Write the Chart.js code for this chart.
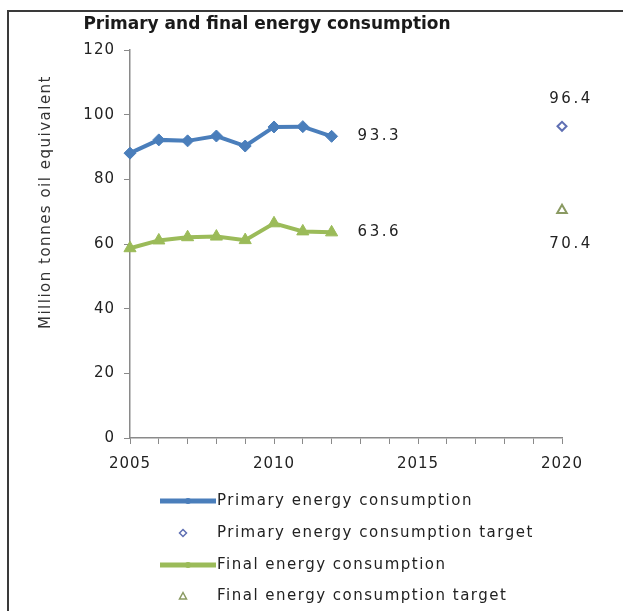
<!DOCTYPE html>
<html>
<head>
<meta charset="utf-8">
<script src="https://cdn.jsdelivr.net/npm/chart.js@4/dist/chart.umd.min.js"></script>
<style>
html,body{margin:0;padding:0;background:#fff;overflow:hidden;}
#wrap{position:relative;width:623px;height:611px;}
canvas{display:block;}
</style>
</head>
<body>
<div id="wrap"><canvas id="c" width="623" height="611"></canvas></div>
<script>
const years = [2005, 2006, 2007, 2008, 2009, 2010, 2011, 2012];
const primaryValues = [88.1, 92.2, 91.9, 93.4, 90.3, 96.2, 96.3, 93.3];
const finalValues = [58.7, 61.1, 62.1, 62.3, 61.2, 66.4, 63.9, 63.6];
const targetYear = 2020;
const primaryTarget = 96.4;
const finalTarget = 70.4;
const yTicks = [0, 20, 40, 60, 80, 100, 120];
const xLabels = [2005, 2010, 2015, 2020];
const titleText = 'Primary and final energy consumption';
const yTitle = 'Million tonnes oil equivalent';
const seriesNames = ['Primary energy consumption', 'Primary energy consumption target', 'Final energy consumption', 'Final energy consumption target'];

const BLUE = '#4A7EBB', GREEN = '#9BBB59', TBLUE = '#5F6FB3', TGREEN = '#8A9A62';
const FONT = '"DejaVu Sans", Verdana, sans-serif';

const decor = {
  id: 'decor',
  beforeDraw(chart) {
    const ctx = chart.ctx;
    ctx.save();
    ctx.fillStyle = '#3a3a3a';
    ctx.fillRect(7, 10, 2, 601);
    ctx.fillRect(7, 10, 616, 2);
    ctx.restore();
    ctx.letterSpacing = '1px';
  },
  afterDraw(chart) {
    const ctx = chart.ctx;
    const xs = chart.scales.x, ys = chart.scales.y;
    ctx.save();
    ctx.letterSpacing = '0px';
    // title
    ctx.fillStyle = '#1a1a1a';
    ctx.font = 'bold 17px ' + FONT;
    ctx.textAlign = 'center';
    ctx.textBaseline = 'middle';
    ctx.fillText(titleText, 267, 25);
    // y title
    ctx.save();
    ctx.translate(46, 202);
    ctx.rotate(-Math.PI / 2);
    ctx.letterSpacing = '1.5px';
    ctx.font = '15px ' + FONT;
    ctx.fillStyle = '#333';
    ctx.fillText(yTitle, 0, 0);
    ctx.restore();
    // data labels
    ctx.letterSpacing = '2.5px';
    ctx.font = '15px ' + FONT;
    ctx.fillStyle = '#222';
    ctx.textAlign = 'left';
    const lastYear = years[years.length - 1];
    const px = xs.getPixelForValue(lastYear);
    ctx.fillText(primaryValues[primaryValues.length - 1].toFixed(1), px + 26, ys.getPixelForValue(primaryValues[primaryValues.length - 1]));
    ctx.fillText(finalValues[finalValues.length - 1].toFixed(1), px + 26, ys.getPixelForValue(finalValues[finalValues.length - 1]));
    ctx.textAlign = 'center';
    const tx = xs.getPixelForValue(targetYear) + 9;
    ctx.fillText(primaryTarget.toFixed(1), tx, ys.getPixelForValue(primaryTarget) - 27);
    ctx.fillText(finalTarget.toFixed(1), tx, ys.getPixelForValue(finalTarget) + 34);
    // legend
    const rows = [501, 533, 565, 596];
    ctx.textAlign = 'left';
    ctx.letterSpacing = '1.5px';
    ctx.font = '15px ' + FONT;
    chart.data.datasets.forEach((ds, i) => {
      const y = rows[i];
      if (ds.showLine !== false) {
        ctx.strokeStyle = ds.borderColor;
        ctx.lineWidth = 5;
        ctx.beginPath(); ctx.moveTo(160, y); ctx.lineTo(216, y); ctx.stroke();
        ctx.fillStyle = ds.pointBackgroundColor;
        ctx.beginPath(); ctx.arc(188, y, 3, 0, Math.PI * 2); ctx.fill();
      } else {
        ctx.strokeStyle = ds.pointBorderColor;
        ctx.lineWidth = 1.5;
        ctx.beginPath();
        if (ds.pointStyle === 'rectRot') {
          ctx.moveTo(183, y - 3.5); ctx.lineTo(186.5, y); ctx.lineTo(183, y + 3.5); ctx.lineTo(179.5, y); ctx.closePath();
        } else {
          ctx.moveTo(183, y - 3.5); ctx.lineTo(186.5, y + 3); ctx.lineTo(179.5, y + 3); ctx.closePath();
        }
        ctx.stroke();
      }
      ctx.fillStyle = '#222';
      ctx.fillText(seriesNames[i], 217, y);
    });
    ctx.restore();
  }
};

new Chart(document.getElementById('c'), {
  type: 'line',
  data: {
    datasets: [
      {
        label: seriesNames[0],
        data: years.map((y, i) => ({x: y, y: primaryValues[i]})),
        borderColor: BLUE, backgroundColor: BLUE,
        pointBackgroundColor: BLUE, pointBorderColor: BLUE,
        borderWidth: 4, pointStyle: 'rectRot', pointRadius: 6, pointBorderWidth: 1,
        tension: 0, clip: false
      },
      {
        label: seriesNames[1],
        data: [{x: targetYear, y: primaryTarget}],
        showLine: false,
        pointStyle: 'rectRot', pointRadius: 4.5, pointBorderWidth: 2,
        pointBorderColor: TBLUE, pointBackgroundColor: '#fff', borderColor: TBLUE, clip: false
      },
      {
        label: seriesNames[2],
        data: years.map((y, i) => ({x: y, y: finalValues[i]})),
        borderColor: GREEN, backgroundColor: GREEN,
        pointBackgroundColor: GREEN, pointBorderColor: GREEN,
        borderWidth: 4, pointStyle: 'triangle', pointRadius: 7, pointBorderWidth: 1,
        tension: 0, clip: false
      },
      {
        label: seriesNames[3],
        data: [{x: targetYear, y: finalTarget}],
        showLine: false,
        pointStyle: 'triangle', pointRadius: 5.5, pointBorderWidth: 2,
        pointBorderColor: TGREEN, pointBackgroundColor: '#fff', borderColor: TGREEN, clip: false
      }
    ]
  },
  options: {
    responsive: false,
    animation: false,
    events: [],
    layout: {padding: {left: 0, top: 50, right: 61, bottom: 140}},
    plugins: {legend: {display: false}, title: {display: false}, tooltip: {enabled: false}},
    scales: {
      x: {
        type: 'linear', min: 2005, max: 2020,
        afterFit(s) { s.height = 33; },
        afterBuildTicks(s) { s.ticks = []; for (let v = 2005; v <= 2020; v++) s.ticks.push({value: v}); },
        grid: {display: true, drawOnChartArea: false, drawTicks: true, tickLength: 6, color: '#8a8a8a', lineWidth: 1},
        border: {display: true, color: '#8a8a8a', width: 1.5},
        ticks: {
          autoSkip: false, maxRotation: 0, padding: 11,
          color: '#222', font: {family: FONT, size: 15},
          callback: (v) => xLabels.includes(v) ? String(v) : ''
        }
      },
      y: {
        min: 0, max: 120,
        afterFit(s) { s.width = 130; },
        afterBuildTicks(s) { s.ticks = yTicks.map(v => ({value: v})); },
        grid: {display: true, drawOnChartArea: false, drawTicks: true, tickLength: 6, color: '#8a8a8a', lineWidth: 1},
        border: {display: true, color: '#8a8a8a', width: 1.5},
        ticks: {padding: 9, color: '#222', font: {family: FONT, size: 15}}
      }
    }
  },
  plugins: [decor]
});
</script>
</body>
</html>
